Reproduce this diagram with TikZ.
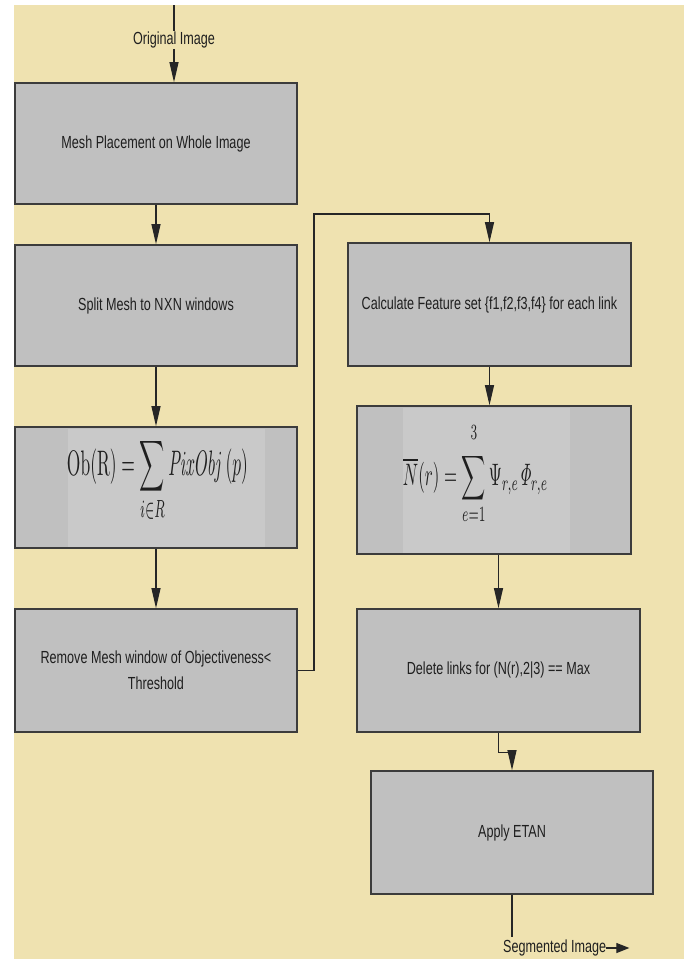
\documentclass[tikz,border=0pt]{standalone}
\usepackage[no-math]{fontspec}
\setmainfont{Liberation Sans}[FakeStretch=0.72]
\usepackage{graphicx}
\usetikzlibrary{arrows.meta,calc}
\definecolor{bgtan}{RGB}{239,226,176}
\definecolor{boxgray}{RGB}{192,192,192}
\definecolor{innergray}{RGB}{201,201,201}
\definecolor{edgegray}{RGB}{60,60,60}
\begin{document}
\begin{tikzpicture}[x=1pt,y=-1pt,
  procbox/.style={draw=edgegray, line width=1.6pt, fill=boxgray, inner sep=0pt,
    align=center, font=\fontsize{17.5}{26}\selectfont, text=black!88},
  lbl/.style={inner sep=0pt, font=\fontsize{17.5}{20}\selectfont, text=black!88},
  conn/.style={line width=1.1pt, draw=black!85},
  arr/.style={conn, -{Triangle[length=20pt,width=9pt]}},
  harr/.style={conn, -{Triangle[length=13pt,width=10pt]}},
  frm/.style={inner sep=0pt, text=black!88}
]
\useasboundingbox (0,0) rectangle (684,959);
\fill[bgtan] (14,5) rectangle (684,959);

% left column
\node[procbox, minimum width=282pt, minimum height=121pt] (m1) at (156,143.5) {Mesh Placement on Whole Image};
\node[procbox, minimum width=282pt, minimum height=121pt] (m2) at (156,305.5) {Split Mesh to N\kern0.5pt X\kern0.5pt N windows};
\node[procbox, minimum width=282pt, minimum height=121pt] (m3) at (156,487.5) {};
\node[procbox, minimum width=282pt, minimum height=123pt] (m4) at (156,670.5) {Remove Mesh window of Objectiveness<\\Threshold};

% right column
\node[procbox, minimum width=283pt, minimum height=123pt] (calc) at (489.5,304.5) {Calculate Feature set \{f1,f2,f3,f4\} for each link};
\node[procbox, minimum width=274pt, minimum height=148pt] (nr) at (494,480) {};
\node[procbox, minimum width=283pt, minimum height=123pt] (del) at (498.5,670.5) {Delete links for (N(r),2|3) == Max};
\node[procbox, minimum width=282pt, minimum height=123pt] (etan) at (512,832.5) {Apply ETAN};

% lighter formula panels
\fill[innergray] (68,428.5) rectangle (265,546.5);
\fill[innergray] (403,407.5) rectangle (570,552.5);

\node[frm] (f1) at (157.5,480.5) {\resizebox*{181pt}{85pt}{$\displaystyle \mathrm{Ob}(\mathrm{R}) = \sum_{i\in R} \mathit{PixObj}\,(p)$}};
\node[frm] (f2) at (475.5,473.5) {\resizebox*{145pt}{103pt}{$\displaystyle \overline{N}(r) = \sum_{e=1}^{\raisebox{2.5pt}{$\scriptstyle 3$}} \Psi_{r,e}\mathit{\Phi}_{r,e}$}};

% input
\coordinate (src) at (174,5);
\node[lbl, fill=bgtan, inner sep=1pt] (orig) at (174,40) {Original Image};
\draw[conn] (src) -- (orig.north);
\draw[arr] (orig.south) -- (orig.south |- m1.north);

% left chain
\draw[arr] (m1.south) -- (m2.north);
\draw[arr] (m2.south) -- (m3.north);
\draw[arr] (m3.south) -- (m4.north);

% feedback to right column
\coordinate (fb) at (314,214);
\draw[arr] (m4.east) -| (fb) -- (fb -| calc.north) -- (calc.north);

% right chain
\draw[arr] (calc.south) -- (calc.south |- nr.north);
\draw[arr] (del.north |- nr.south) -- (del.north);
\draw[arr] (del.south) -- ++(0,20) -| (etan.north);

% output
\node[lbl, anchor=west] (seg) at (503,948) {Segmented Image};
\draw[conn] (etan.south) -- (etan.south |- 0,937);
\draw[harr] (seg.east) -- ++(23,0);
\end{tikzpicture}
\end{document}
